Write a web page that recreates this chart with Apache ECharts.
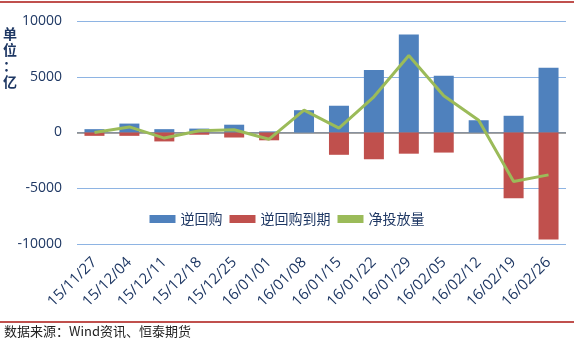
<!DOCTYPE html>
<html>
<head>
<meta charset="utf-8">
<script src="https://cdn.jsdelivr.net/npm/echarts@6/dist/echarts.min.js"></script>
<style>
  html, body { margin: 0; padding: 0; background: #fff; }
  #chart { width: 574px; height: 343px; }
</style>
</head>
<body>
<div id="chart"></div>
<script>
// Weekly open-market operations (unit: 亿元)
const categories = ['15/11/27', '15/12/04', '15/12/11', '15/12/18', '15/12/25', '16/01/01', '16/01/08',
  '16/01/15', '16/01/22', '16/01/29', '16/02/05', '16/02/12', '16/02/19', '16/02/26'];
const reverseRepo = [300, 800, 300, 350, 700, 100, 2000, 2400, 5600, 8800, 5100, 1100, 1500, 5800];
const repoMaturity = [-300, -300, -800, -200, -450, -700, 0, -2000, -2400, -1900, -1800, 0, -5900, -9600];
const netInjection = [0, 500, -500, 150, 250, -600, 2000, 400, 3200, 6900, 3300, 1100, -4400, -3800];
const yTicks = { min: -10000, max: 10000, interval: 5000 };

const navy = '#1F3864';
const chart = echarts.init(document.getElementById('chart'), null, { renderer: 'canvas' });

chart.setOption({
  animation: false,
  backgroundColor: '#ffffff',
  grid: { left: 77, right: 8, top: 21, bottom: 99, containLabel: false },
  legend: {
    top: 207,
    left: 'center',
    itemWidth: 26,
    itemHeight: 8,
    itemGap: 7,
    textStyle: { color: navy, fontSize: 14, fontFamily: 'Noto Sans CJK SC' },
    data: [
      { name: '逆回购', icon: 'rect' },
      { name: '逆回购到期', icon: 'rect' },
      { name: '净投放量', icon: 'rect', itemStyle: { color: '#9BBB59' } }
    ]
  },
  xAxis: {
    type: 'category',
    data: categories,
    axisLine: { show: false },
    axisTick: { show: false },
    axisLabel: {
      rotate: 45,
      interval: 0,
      margin: 16,
      color: navy,
      fontSize: 15,
      fontFamily: 'Open Sans'
    }
  },
  yAxis: {
    type: 'value',
    min: yTicks.min,
    max: yTicks.max,
    interval: yTicks.interval,
    axisLine: { show: false },
    axisTick: { show: false },
    axisLabel: {
      color: navy,
      fontSize: 14,
      margin: 15,
      fontFamily: 'Open Sans',
      formatter: (v) => String(v)
    },
    splitLine: { lineStyle: { color: '#8EB4E3', width: 1 } }
  },
  series: [
    {
      name: '逆回购',
      type: 'bar',
      data: reverseRepo,
      barWidth: 20,
      barGap: '-100%',
      itemStyle: { color: '#4F81BD' },
      markLine: {
        silent: true,
        symbol: 'none',
        label: { show: false },
        lineStyle: { color: '#868686', width: 1.5, type: 'solid' },
        data: [{ yAxis: 0 }],
        z: 1
      }
    },
    {
      name: '逆回购到期',
      type: 'bar',
      data: repoMaturity,
      barWidth: 20,
      barGap: '-100%',
      itemStyle: { color: '#C0504D' }
    },
    {
      name: '净投放量',
      type: 'line',
      data: netInjection,
      symbol: 'none',
      z: 5,
      lineStyle: { color: '#9BBB59', width: 3 },
      itemStyle: { color: '#9BBB59' }
    }
  ],
  graphic: [
    { type: 'rect', left: 0, top: 1, shape: { width: 574, height: 2 }, style: { fill: '#C0504D' } },
    { type: 'rect', left: 0, top: 321, shape: { width: 574, height: 2 }, style: { fill: '#C0504D' } },
    {
      type: 'text', left: 3, top: 26,
      style: { text: '单\n位\n：\n亿', fill: navy, font: 'bold 14px "Noto Sans CJK SC"', lineHeight: 16 }
    },
    {
      type: 'text', left: 4, top: 325,
      style: { text: '数据来源：Wind资讯、恒泰期货', fill: '#222', font: '13px "Noto Sans CJK SC"' }
    }
  ]
});
</script>
</body>
</html>
